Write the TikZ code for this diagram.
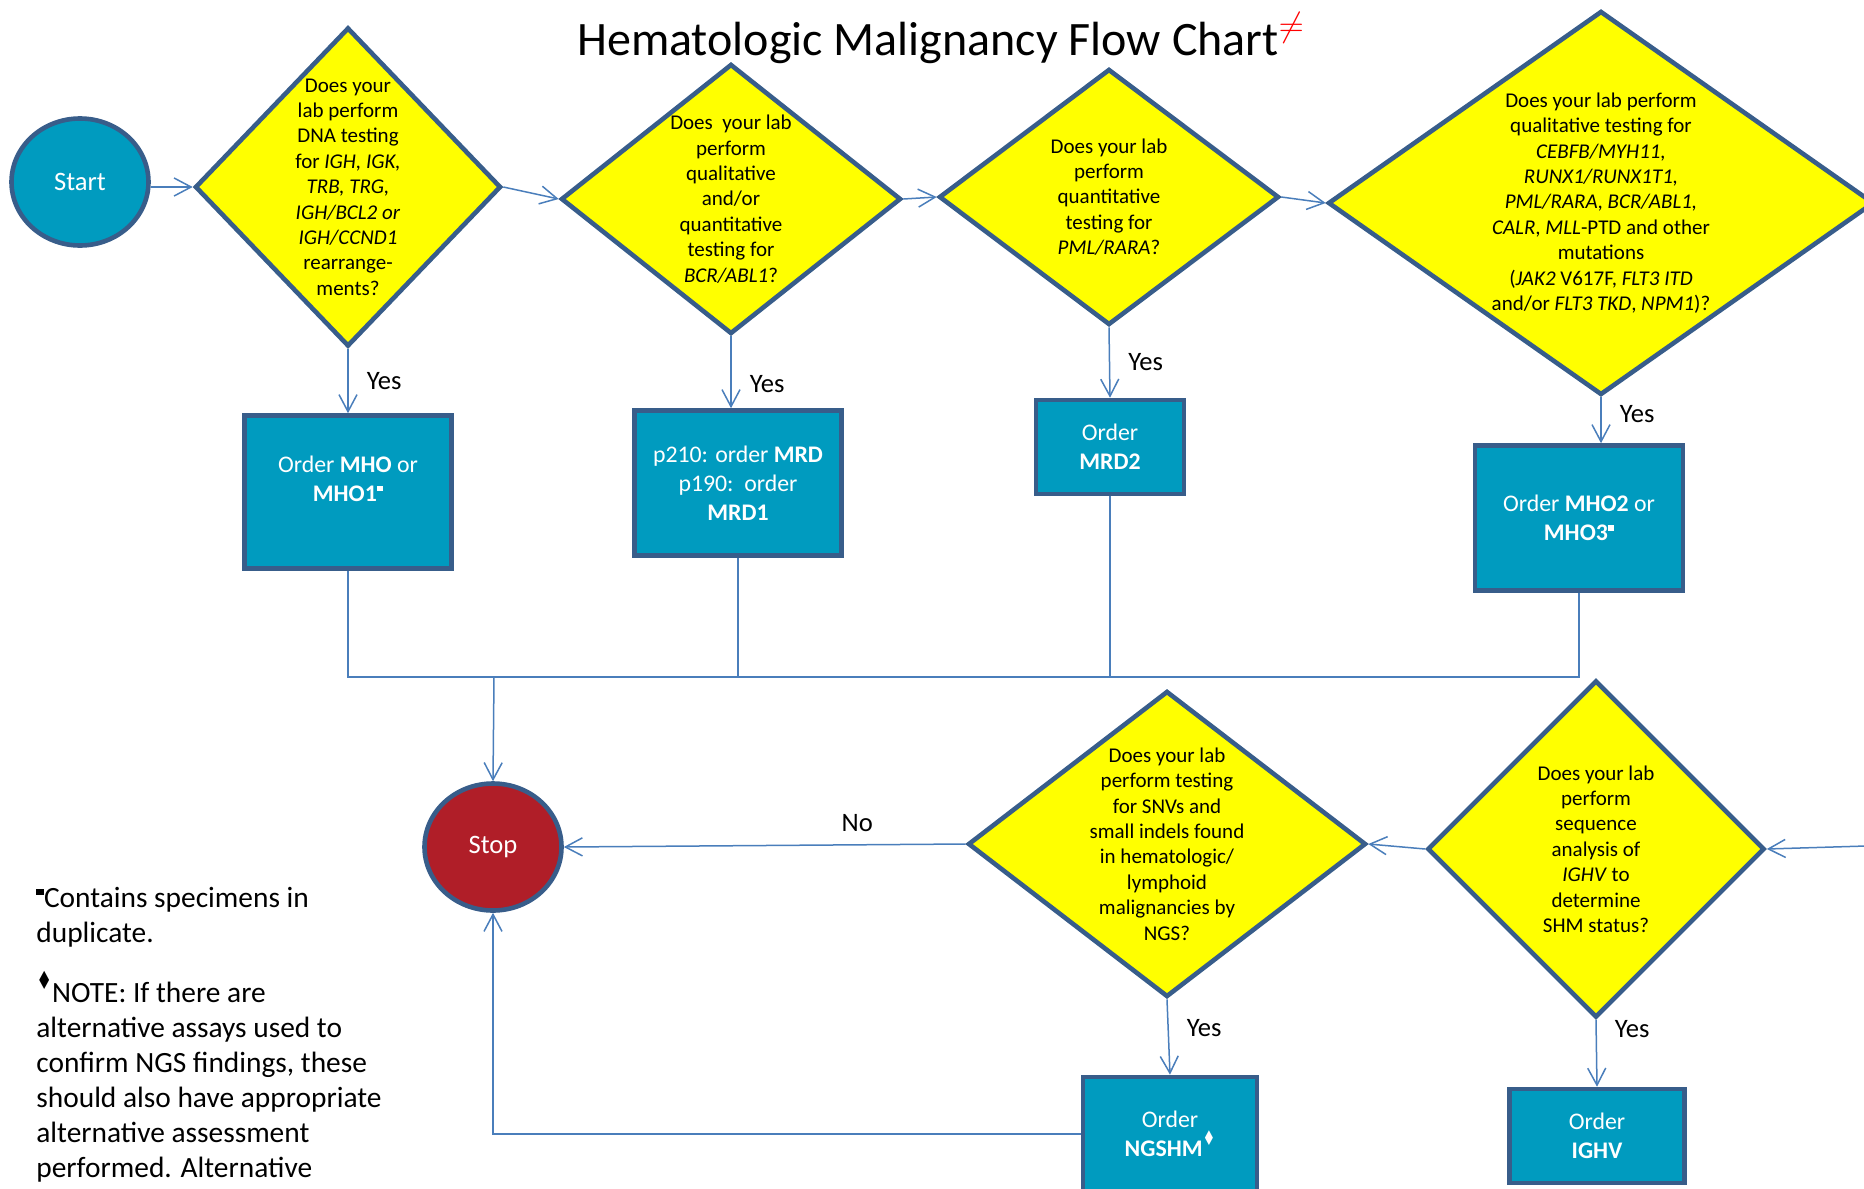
\documentclass[tikz,border=0pt]{standalone}
\usepackage{fontspec}
\setmainfont{Carlito}
\newfontfamily\symfont{DejaVu Sans}
\usetikzlibrary{shapes.geometric,arrows.meta}
\definecolor{qyellow}{RGB}{255,255,0}
\definecolor{qedge}{RGB}{56,93,138}
\definecolor{boxteal}{RGB}{0,155,191}
\definecolor{stopred}{RGB}{176,30,40}
\definecolor{linkblue}{RGB}{74,126,187}
\newcommand{\sqmark}{\raisebox{0.42em}{\rule{0.26em}{0.22em}}}
\newcommand{\dmmark}{\raisebox{0.45em}{\scalebox{0.6}[0.85]{\symfont ♦}}}

\begin{document}
\begin{tikzpicture}[x=0.5pt, y=-0.5pt,
        quest/.style={diamond, draw=qedge, fill=qyellow, line width=2.3pt,
            inner sep=0pt},
        questtext/.style={align=center, inner sep=0pt,
            font=\fontsize{10.5}{12.7}\selectfont},
        order/.style={rectangle, draw=qedge, fill=boxteal, line width=2.3pt,
            text=white, align=center, inner sep=0pt,
            font=\fontsize{11.9}{14.5}\selectfont},
        term/.style={ellipse, draw=qedge, line width=2.3pt, text=white,
            minimum width=68.5pt, minimum height=63.5pt, inner sep=0pt,
            font=\fontsize{13.3}{16}\selectfont},
        link/.style={draw=linkblue, line width=0.75pt},
        flow/.style={link, -{Straight Barb[length=8.5pt,width=9pt]}},
        yes/.style={right, inner sep=0pt, xshift=9pt,
            font=\fontsize{13.3}{16}\selectfont}]
\useasboundingbox (0,0) rectangle (1864,1189);

\node[font=\fontsize{24}{29}\selectfont, anchor=base] (title) at (941,55)
    {Hematologic Malignancy Flow Chart\textsuperscript{\color{red}$\neq$}};

\node[term, fill=boxteal] (start) at (80,182) {Start};
\node[term, fill=stopred] (stop) at (493,847) {Stop};

\node[quest, minimum width=153pt, minimum height=159.5pt] (q1) at (348,187) {};
\node[quest, minimum width=170pt, minimum height=135pt] (q2) at (731,199) {};
\node[quest, minimum width=170pt, minimum height=128pt] (q3) at (1109,197) {};
\node[quest, minimum width=273pt, minimum height=192pt] (q4) at (1601,203) {};
\node[quest, minimum width=199pt, minimum height=153pt] (q5) at (1167,844) {};
\node[quest, minimum width=168.5pt, minimum height=168.5pt] (q6) at (1596,849) {};

\node[questtext] (q1t) at (q1) {Does your\\lab perform\\DNA testing\\for \textit{IGH, IGK,}\\
    \textit{TRB, TRG,}\\\textit{IGH/BCL2 or}\\\textit{IGH/CCND1}\\rearrange-\\ments?};
\node[questtext] (q2t) at (q2) {Does\ \ your lab\\perform\\qualitative\\and/or\\
    quantitative\\testing for\\\textit{BCR/ABL1}?};
\node[questtext] (q3t) at (q3) {Does your lab\\perform\\quantitative\\testing for\\
    \textit{PML/RARA}?};
\node[questtext] (q4t) at (q4) {Does your lab perform\\qualitative testing for\\
    \textit{CEBFB/MYH11,}\\\textit{RUNX1/RUNX1T1,}\\\textit{PML/RARA}, \textit{BCR/ABL1,}\\
    \textit{CALR}, \textit{MLL}-PTD and other\\mutations\\
    (\textit{JAK2} V617F, \textit{FLT3 ITD}\\and/or \textit{FLT3 TKD}, \textit{NPM1})?};
\node[questtext] (q5t) at (q5) {Does your lab\\perform testing\\for SNVs and\\
    small indels found\\in hematologic/\\lymphoid\\malignancies by\\NGS?};
\node[questtext] (q6t) at (q6) {Does your lab\\perform\\sequence\\analysis of\\
    \textit{IGHV} to\\determine\\SHM status?};

\node[order, minimum width=103.5pt, minimum height=76.5pt, text depth=13.5pt] (b1)
    at (348,492) {Order \textbf{MHO} or\\\textbf{MHO1}\sqmark};
\node[order, minimum width=103.5pt, minimum height=72.5pt] (b2) at (738,483)
    {p210: order \textbf{MRD}\\p190:\ \ order\\\textbf{MRD1}};
\node[order, minimum width=74pt, minimum height=47pt] (b3) at (1110,447)
    {Order\\\textbf{MRD2}};
\node[order, minimum width=104pt, minimum height=72.5pt] (b4) at (1579,518)
    {Order \textbf{MHO2} or\\\textbf{MHO3}\sqmark};
\node[order, minimum width=87pt, minimum height=57pt] (b5) at (1170,1134)
    {Order\\\textbf{NGSHM}\dmmark};
\node[order, minimum width=87.5pt, minimum height=47pt] (b6) at (1597,1136)
    {Order\\\textbf{IGHV}};

\node[anchor=north west, align=left, inner sep=0pt,
    font=\fontsize{14.7}{17.5}\selectfont] (notes) at (36,887)
    {\sqmark Contains specimens in\\duplicate.\\[11pt]\dmmark NOTE: If there are\\
    alternative assays used to\\confirm NGS findings, these\\should also have appropriate\\
    alternative assessment\\performed. Alternative};

\draw[flow] (start.east |- q1.west) -- (q1.west);
\draw[flow] (q1.east) -- (q2.west);
\draw[flow] (q2.east) -- (q3.west);
\draw[flow] (q3.east) -- (q4.west);

\draw[flow] (q1.south) -- node[yes, pos=0.5] (y1) {Yes} (b1.north);
\draw[flow] (q2.south) -- node[yes, pos=0.66] (y2) {Yes} (q2.south |- b2.north);
\draw[flow] (q3.south) -- node[yes, pos=0.5] (y3) {Yes} (b3.north);
\draw[flow] (q4.south) -- node[yes, pos=0.36] (y4) {Yes} (q4.south |- b4.north);

\coordinate (bus) at (494,677);
\draw[link] (b1.south) |- (bus);
\draw[link] (b2.south) |- (bus);
\draw[link] (b3.south) |- (bus);
\draw[link] (b4.south) |- (bus);
\draw[flow] (bus) -- (stop.north);

\draw[flow] (q5.west) -- node[pos=0.27, above=6pt, inner sep=0pt,
    font=\fontsize{13.3}{16}\selectfont] (no) {No} (stop.east);
\draw[flow] (q6.west) -- (q5.east);
\coordinate (rimright) at (1866,846);
\draw[flow] (rimright) -- (q6.east);

\draw[flow] (q5.south) -- node[yes, pos=0.38] (y5) {Yes} (b5.north);
\draw[flow] (q6.south) -- node[yes, pos=0.14] (y6) {Yes} (b6.north);
\draw[flow] (b5.west) -| (stop.south);
\end{tikzpicture}
\end{document}
